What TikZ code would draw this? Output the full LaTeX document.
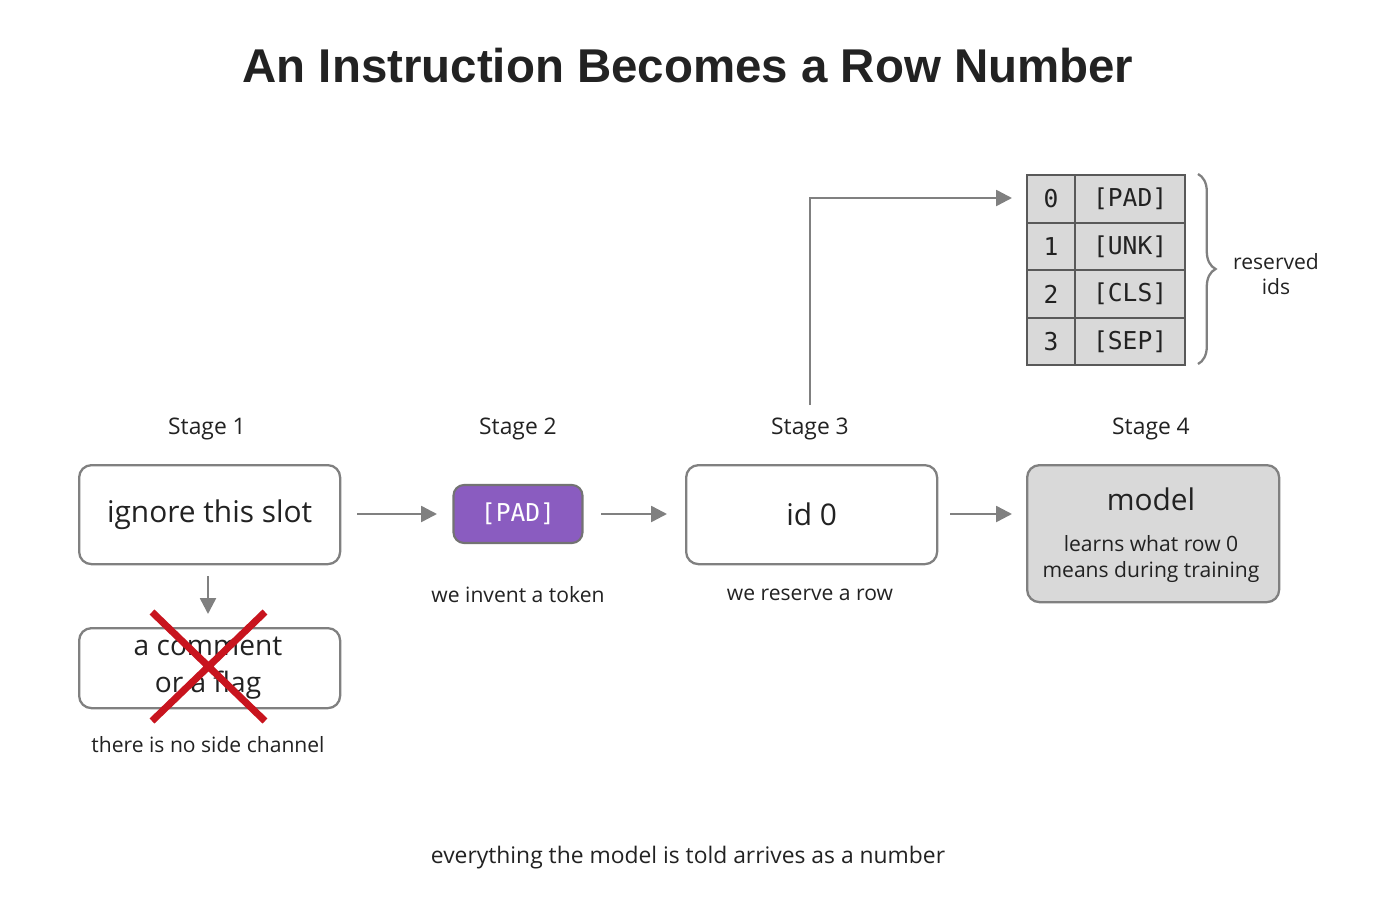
\documentclass[tikz,border=0pt]{standalone}
\usepackage{fontspec}
\setmainfont{Open Sans}
\newfontfamily\titlefont{Liberation Sans}
\newfontfamily\monofont{DejaVu Sans Mono}
\usetikzlibrary{arrows.meta,decorations.pathreplacing}
\definecolor{bordergray}{HTML}{808080}
\definecolor{padpurple}{HTML}{8A5CC0}
\definecolor{cellgray}{HTML}{D9D9D9}
\definecolor{textdark}{HTML}{222222}
\definecolor{xred}{HTML}{C8141E}
\tikzset{
  px/.style={x=0.02cm,y=-0.02cm},
  stagebox/.style={draw=bordergray,line width=1.3pt,rounded corners=7pt,fill=white,inner sep=0pt,anchor=north west},
  conn/.style={draw=bordergray,line width=1.4pt,-{Triangle[length=9pt,width=9pt]}},
  lab/.style={text=textdark,font=\fontsize{13}{15}\selectfont},
  cell/.style={draw=black!65,line width=1.3pt,fill=cellgray,inner sep=0pt,anchor=north west,font=\monofont\fontsize{14}{16}\selectfont,text=textdark},
}
\begin{document}
\begin{tikzpicture}[px]
\useasboundingbox (0,0) rectangle (1376,899);
\node[font=\titlefont\bfseries\fontsize{27}{30}\selectfont,text=textdark] (title) at (688,66) {An Instruction Becomes a Row Number};
% stage labels
\node[lab] (s1) at (207,429) {Stage 1};
\node[lab] (s2) at (518,429) {Stage 2};
\node[lab] (s3) at (810,429) {Stage 3};
\node[lab] (s4) at (1151,429) {Stage 4};
% boxes
\node[stagebox,minimum width=261*0.02cm,minimum height=99*0.02cm] (b1) at (78,464) {};
\node[lab,font=\fontsize{17}{20}\selectfont] at (b1.center) {ignore this slot};
\node[draw=black!55,line width=1.2pt,rounded corners=6pt,fill=padpurple,text=white,minimum width=129*0.02cm,minimum height=58*0.02cm,inner sep=0pt,font=\monofont\fontsize{14}{16}\selectfont] (b2) at (518,514) {[PAD]};
\node[stagebox,minimum width=251*0.02cm,minimum height=99*0.02cm] (b3) at (685,464) {};
\node[lab,font=\fontsize{17}{20}\selectfont] at (b3.center) {id 0};
\node[stagebox,fill=cellgray,minimum width=252*0.02cm,minimum height=137*0.02cm] (b4) at (1026,464) {};
\node[lab,font=\fontsize{17}{20}\selectfont] (m) at (1151,499) {model};
\node[lab,font=\fontsize{12}{14.5}\selectfont,align=center] (m2) at (1151,559) {learns what row 0\\means during training};
% captions
\node[lab,font=\fontsize{12}{14}\selectfont] (c2) at (518,595) {we invent a token};
\node[lab,font=\fontsize{12}{14}\selectfont] (c3) at (810,595) {we reserve a row};
% crossed box
\node[stagebox,minimum width=261*0.02cm,minimum height=80*0.02cm] (b5) at (78,627) {};
\node[lab,font=\fontsize{16}{21}\selectfont,align=center] (b5t) at (208,668) {a comment\\or a flag};
\draw[xred,line width=4pt] (152,612) -- (265,721) (265,612) -- (152,721);
\node[lab,font=\fontsize{12}{14}\selectfont] (c1) at (208,745) {there is no side channel};
% connectors
\coordinate (a1s) at (357,514); \coordinate (a1e) at (437,514);
\draw[conn] (a1s) -- (a1e);
\coordinate (a2s) at (601,514); \coordinate (a2e) at (667,514);
\draw[conn] (a2s) -- (a2e);
\coordinate (a3s) at (950,514); \coordinate (a3e) at (1012,514);
\draw[conn] (a3s) -- (a3e);
\coordinate (d1s) at (208,576); \coordinate (d1e) at (208,614);
\draw[conn] (d1s) -- (d1e);
\coordinate (u1) at (810,405); \coordinate (u2) at (1012,198);
\draw[conn] (u1) |- (u2);
% table
\foreach \i/\t [count=\k from 0] in {0/[PAD],1/[UNK],2/[CLS],3/[SEP]}{
  \node[cell,minimum width=48*0.02cm,minimum height=47.5*0.02cm] (n\k) at (1026,174+47.5*\k) {\i};
  \node[cell,minimum width=110*0.02cm,minimum height=47.5*0.02cm] (t\k) at (1074,174+47.5*\k) {\t};
}
\draw[bordergray,line width=1.3pt,decorate,decoration={brace,amplitude=10pt}] (1198,174) -- (1198,364);
\node[lab,font=\fontsize{12}{14.5}\selectfont,align=center] (res) at (1276,274) {reserved\\ids};
\node[lab,font=\fontsize{13}{15}\selectfont] (foot) at (688,858) {everything the model is told arrives as a number};
\end{tikzpicture}
\end{document}
